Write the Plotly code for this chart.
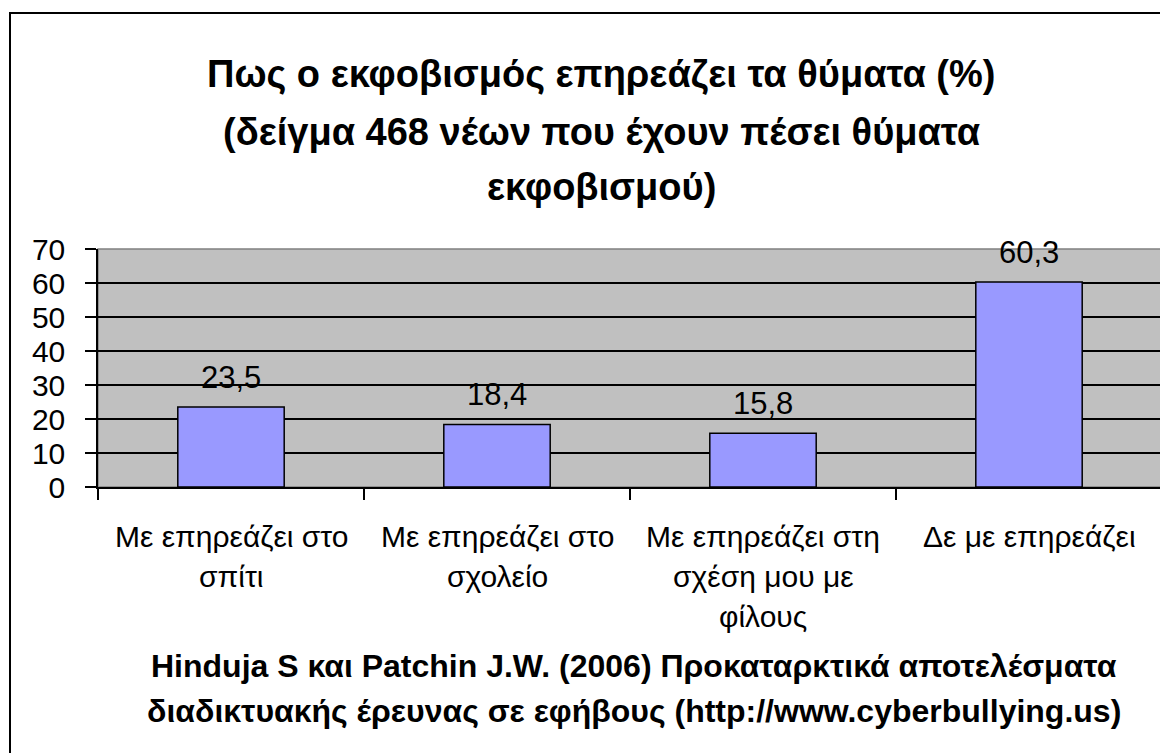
import plotly.graph_objects as go

# data
categories = ['Με επηρεάζει στο σπίτι', 'Με επηρεάζει στο σχολείο',
              'Με επηρεάζει στη σχέση μου με φίλους', 'Δε με επηρεάζει']
cat_lines = [['Με επηρεάζει στο', 'σπίτι'],
             ['Με επηρεάζει στο', 'σχολείο'],
             ['Με επηρεάζει στη', 'σχέση μου με', 'φίλους'],
             ['Δε με επηρεάζει']]
values = [23.5, 18.4, 15.8, 60.3]
title_lines = ['Πως ο εκφοβισμός επηρεάζει τα θύματα (%)',
               '(δείγμα 468 νέων που έχουν πέσει θύματα',
               'εκφοβισμού)']
source_lines = ['Hinduja S και Patchin J.W. (2006) Προκαταρκτικά αποτελέσματα',
                'διαδικτυακής έρευνας σε εφήβους (http://www.cyberbullying.us)']

FONT = 'Arial, Liberation Sans, sans-serif'
OFF = 8  # page body margin
W, H = 1160, 745
L, R, T, B = 90, 6, 241, 266
ph = H - T - B
pw = W - L - R


def py(y_scr):
    # screen row -> paper y
    return (H - B - (y_scr - OFF)) / ph


def px(x_scr):
    return (x_scr - OFF - L) / pw


fig = go.Figure()
fig.add_trace(go.Bar(
    x=categories, y=values, width=0.4,
    marker=dict(color='#9999FF', line=dict(color='black', width=1.5)),
    hoverinfo='skip', showlegend=False
))

ann = []
for c, v in zip(categories, values):
    ann.append(dict(x=c, y=v, xref='x', yref='y', text=f'{v:.1f}'.replace('.', ','),
                    showarrow=False, yanchor='bottom', yshift=10,
                    font=dict(family=FONT, size=31, color='black')))

for c, lines in zip(categories, cat_lines):
    for k, t in enumerate(lines):
        ann.append(dict(x=c, y=py(536 + k * 40), xref='x', yref='paper', text=t,
                        showarrow=False, yanchor='middle',
                        font=dict(family=FONT, size=30, color='black')))

for t, yy in zip(title_lines, [74, 132, 187]):
    ann.append(dict(x=px(601), y=py(yy), xref='paper', yref='paper', text=f'<b>{t}</b>',
                    showarrow=False, yanchor='middle',
                    font=dict(family=FONT, size=38, color='black')))

for t, yy in zip(source_lines, [666, 711]):
    ann.append(dict(x=px(634), y=py(yy), xref='paper', yref='paper', text=f'<b>{t}</b>',
                    showarrow=False, yanchor='middle',
                    font=dict(family=FONT, size=32, color='black')))

shapes = [
    # plot area border (grey top/right)
    dict(type='rect', xref='paper', yref='paper', x0=0, x1=1, y0=0, y1=1,
         line=dict(color='#808080', width=1.5), layer='below'),
    # outer chart frame
    dict(type='rect', xref='paper', yref='paper', x0=px(10), x1=px(1190),
         y0=py(790), y1=py(13), line=dict(color='black', width=2)),
]

fig.update_layout(
    width=W, height=H,
    margin=dict(l=L, r=R, t=T, b=B),
    paper_bgcolor='white',
    plot_bgcolor='#C0C0C0',
    separators=',.',
    showlegend=False,
    annotations=ann,
    shapes=shapes,
    xaxis=dict(
        showticklabels=False, ticks='outside', ticklen=11, tickwidth=1.5,
        tickcolor='black', tickson='boundaries', showline=True,
        linecolor='black', linewidth=1.5, showgrid=False, fixedrange=True
    ),
    yaxis=dict(
        range=[0, 70], dtick=10, ticks='outside', ticklen=11, tickwidth=1.5,
        tickcolor='black', showline=True, linecolor='black', linewidth=1.5,
        gridcolor='black', gridwidth=1.5, zeroline=False,
        tickfont=dict(family=FONT, size=30, color='black'),
        ticklabelstandoff=14, fixedrange=True
    ),
)

fig.write_html('out.html')
